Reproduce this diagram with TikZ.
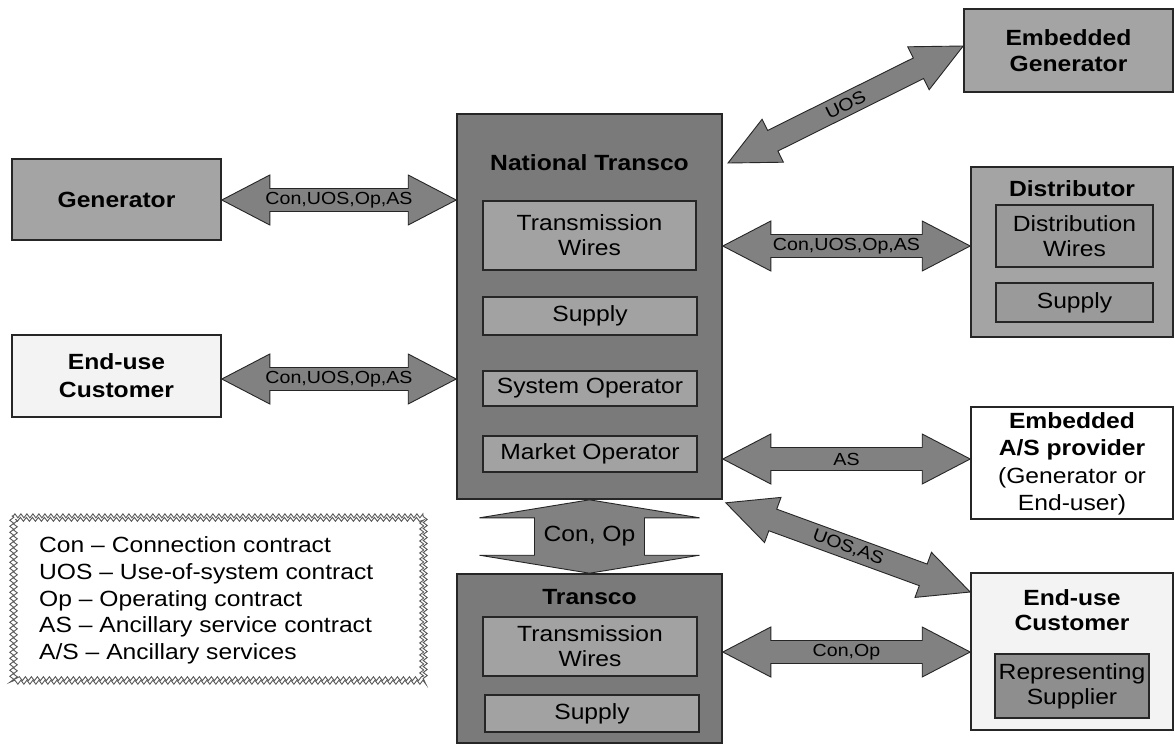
\documentclass[tikz,border=0pt]{standalone}
\usepackage{fontspec}
\setmainfont{Liberation Sans}[FakeStretch=1.12]
\usetikzlibrary{calc,decorations.pathmorphing}
\definecolor{ntgray}{HTML}{7A7A7A}
\definecolor{midgray}{HTML}{A4A4A4}
\definecolor{inngray}{HTML}{A2A2A2}
\definecolor{dingray}{HTML}{9A9A9A}
\definecolor{repgray}{HTML}{8E8E8E}
\definecolor{arrgray}{HTML}{818181}
\definecolor{lightfill}{HTML}{F3F3F3}
\definecolor{edgecol}{HTML}{262626}
\newcommand\mainsz{\fontsize{22}{25}\selectfont}
\newcommand\boldsz{\fontsize{22}{26}\selectfont\bfseries}
\newcommand\labsz{\fontsize{17.5}{20}\selectfont}
\newcommand\dbl[5]{%
  \draw[arr] (#1) -- ($(#1)!#3!(#2)!#4!90:(#2)$) -- ($(#1)!#3!(#2)!#5!90:(#2)$)
    -- ($(#2)!#3!(#1)!#5!-90:(#1)$) -- ($(#2)!#3!(#1)!#4!-90:(#1)$) -- (#2)
    -- ($(#2)!#3!(#1)!#4!90:(#1)$) -- ($(#2)!#3!(#1)!#5!90:(#1)$)
    -- ($(#1)!#3!(#2)!#5!-90:(#2)$) -- ($(#1)!#3!(#2)!#4!-90:(#2)$) -- cycle;}
\tikzset{
  box/.style={draw=edgecol, line width=1.6pt, inner sep=0pt, align=center, font=\mainsz},
  bbox/.style={box, font=\boldsz},
  ttl/.style={inner sep=0pt, align=center, font=\boldsz},
  arr/.style={draw=edgecol, line width=0.9pt, fill=arrgray, line join=miter},
  lab/.style={font=\labsz, inner sep=0pt},
  zz/.style={draw=black!65, line width=0.9pt, decorate,
    decoration={zigzag, segment length=6pt, amplitude=2pt}},
}
\begin{document}
\begin{tikzpicture}[x=1pt,y=-1pt]
\useasboundingbox (0,0) rectangle (1175,745);
\fill[white] (0,0) rectangle (1175,745);

% left boxes
\node[bbox, fill=midgray, minimum width=209pt, minimum height=81pt] (gen) at (116.5,199.5) {Generator};
\node[bbox, fill=lightfill, minimum width=209pt, minimum height=82pt, font=\fontsize{22}{28}\selectfont\bfseries] (euL) at (116.5,376) {End-use\\Customer};

% National Transco
\node[box, fill=ntgray, minimum width=265pt, minimum height=385pt] (nt) at (589.5,306.5) {};
\node[ttl] (ntT) at (589.5,163) {National Transco};
\node[box, fill=inngray, minimum width=213pt, minimum height=69pt] (ntw) at (589.5,235.5) {Transmission\\Wires};
\node[box, fill=inngray, minimum width=214pt, minimum height=38pt] (nts) at (590,316) {Supply};
\node[box, fill=inngray, minimum width=214pt, minimum height=35pt] (ntso) at (590,388.5) {System Operator};
\node[box, fill=inngray, minimum width=214pt, minimum height=36pt] (ntmo) at (590,454) {Market Operator};

% Transco
\node[box, fill=ntgray, minimum width=265pt, minimum height=169pt] (tr) at (589.5,658.5) {};
\node[ttl] (trT) at (589.5,597) {Transco};
\node[box, fill=inngray, minimum width=214pt, minimum height=59pt] (trw) at (590,646.5) {Transmission\\Wires};
\node[box, fill=inngray, minimum width=214pt, minimum height=37pt] (trs) at (592,713.5) {Supply};

% right boxes
\node[bbox, fill=midgray, minimum width=209pt, minimum height=83pt] (eg) at (1068.5,50.5) {Embedded\\Generator};
\node[box, fill=midgray, minimum width=202pt, minimum height=170pt] (dist) at (1072,252) {};
\node[ttl] (distT) at (1072,189) {Distributor};
\node[box, fill=dingray, minimum width=157pt, minimum height=62pt] (distw) at (1074.5,236) {Distribution\\Wires};
\node[box, fill=dingray, minimum width=157pt, minimum height=39pt] (dists) at (1074.5,302.5) {Supply};
\node[box, fill=white, minimum width=202pt, minimum height=112pt] (asp) at (1072,463) {};
\node[inner sep=0pt, align=center, font=\fontsize{22}{27.5}\selectfont] (aspT) at (1072,464)
  {\textbf{Embedded}\\\textbf{A/S provider}\\(Generator or\\End-user)};
\node[box, fill=lightfill, minimum width=202pt, minimum height=157pt] (euR) at (1072,651.5) {};
\node[ttl, font=\fontsize{22}{25}\selectfont\bfseries] (euRT) at (1072,610.5) {End-use\\Customer};
\node[box, fill=repgray, minimum width=154pt, minimum height=64pt] (rep) at (1072,686) {Representing\\Supplier};

% legend
\node[minimum width=413pt, minimum height=166pt, inner sep=0pt, fill=white] (leg) at (218.5,599) {};
\draw[zz] (leg.north west) rectangle (leg.south east);
\draw[zz] ([shift={(3.5pt,-3.5pt)}]leg.north west) rectangle ([shift={(-3.5pt,3.5pt)}]leg.south east);
\node[anchor=west, align=left, inner sep=0pt, font=\fontsize{22}{26.7}\selectfont] (legT) at (39,600.5)
  {Con – Connection contract\\UOS – Use-of-system contract\\Op – Operating contract\\AS – Ancillary service contract\\A/S – Ancillary services};

% arrow end points
\coordinate (g1) at (gen.east |- 0,200);
\coordinate (g2) at (nt.west |- 0,200);
\coordinate (e1) at (euL.east |- 0,379);
\coordinate (e2) at (nt.west |- 0,379);
\coordinate (d1) at (nt.east |- 0,246);
\coordinate (d2) at (dist.west |- 0,246);
\coordinate (s1) at (nt.east |- 0,459);
\coordinate (s2) at (asp.west |- 0,459);
\coordinate (c1) at (tr.east |- 0,652);
\coordinate (c2) at (euR.west |- 0,652);
\coordinate (u1) at (728,163);
\coordinate (u2) at (eg.west |- 0,46);
\coordinate (v1) at ([shift={(3pt,-3pt)}]nt.south east);
\coordinate (v2) at (euR.west |- 0,592);

\dbl{g1}{g2}{48pt}{25pt}{11.5pt}
\path (g1) -- (g2) node[midway, lab] {Con,UOS,Op,AS};
\dbl{e1}{e2}{48pt}{25pt}{11.5pt}
\path (e1) -- (e2) node[midway, lab] {Con,UOS,Op,AS};
\dbl{d1}{d2}{48pt}{25pt}{11.5pt}
\path (d1) -- (d2) node[midway, lab] {Con,UOS,Op,AS};
\dbl{s1}{s2}{48pt}{25pt}{11.5pt}
\path (s1) -- (s2) node[midway, lab] {AS};
\dbl{c1}{c2}{48pt}{25pt}{11.5pt}
\path (c1) -- (c2) node[midway, lab] {Con,Op};
\dbl{u1}{u2}{50pt}{24pt}{11.5pt}
\path (u1) -- (u2) node[midway, sloped, lab] {UOS};
\dbl{v1}{v2}{50pt}{24pt}{11.5pt}
\path (v1) -- (v2) node[midway, sloped, lab] {UOS,AS};
\dbl{nt.south}{tr.north}{18pt}{110pt}{55pt}
\path (nt.south) -- (tr.north) node[midway, inner sep=0pt, font=\mainsz] {Con, Op};
\end{tikzpicture}
\end{document}
